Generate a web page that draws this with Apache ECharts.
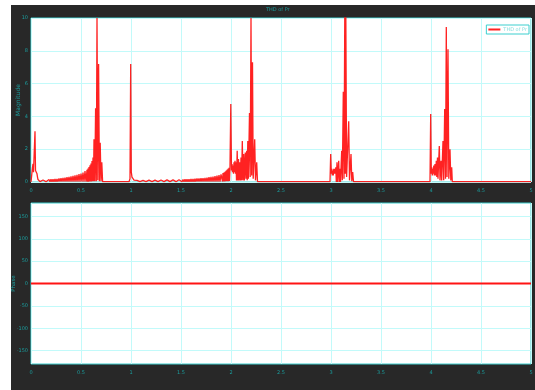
<!DOCTYPE html>
<html>
<head>
<meta charset="utf-8">
<script src="https://cdn.jsdelivr.net/npm/echarts@6/dist/echarts.min.js"></script>
<style>
  html, body { margin: 0; padding: 0; background: #ffffff; }
  #frame { position: absolute; left: 11px; top: 5px; width: 524px; height: 385px; background: #282828; }
  #chart { position: absolute; left: 0; top: 0; width: 535px; height: 390px; }
</style>
</head>
<body>
<div id="frame"></div>
<div id="chart"></div>
<script>
// Spectrum samples: frequency (x) and magnitude (y)
const freq = [
  // DC region
  0, 0.005, 0.01, 0.015, 0.02, 0.025, 0.03, 0.035, 0.04, 0.045, 0.05, 0.055, 0.06, 0.065, 0.07, 0.075,
  // skirt rising to the first peak
  0.08, 0.09, 0.10, 0.11, 0.12, 0.13, 0.14, 0.15, 0.16, 0.17, 0.18, 0.19, 0.20, 0.21, 0.22, 0.23,
  0.24, 0.25, 0.26, 0.27, 0.28, 0.29, 0.30, 0.31, 0.32, 0.33, 0.34, 0.35, 0.36, 0.37, 0.38, 0.39,
  0.40, 0.41, 0.42, 0.43, 0.44, 0.45, 0.46, 0.47, 0.48, 0.49, 0.50, 0.51, 0.52, 0.53, 0.54, 0.55,
  // first peak
  0.56, 0.565, 0.57, 0.575, 0.58, 0.585, 0.59, 0.595, 0.60, 0.605, 0.61, 0.615, 0.62, 0.625, 0.63,
  0.638, 0.646, 0.653, 0.66, 0.668, 0.676, 0.684, 0.692, 0.70, 0.708, 0.716, 0.725,
  // line at 1
  0.98, 0.99, 0.997, 1.003, 1.01, 1.02, 1.03,
  // skirt rising to 2
  1.04, 1.05, 1.06, 1.07, 1.08, 1.09, 1.10, 1.11, 1.12, 1.13, 1.14, 1.15, 1.16, 1.17, 1.18, 1.19,
  1.20, 1.21, 1.22, 1.23, 1.24, 1.25, 1.26, 1.27, 1.28, 1.29, 1.30, 1.31, 1.32, 1.33, 1.34, 1.35,
  1.36, 1.37, 1.38, 1.39, 1.40, 1.41, 1.42, 1.43, 1.44, 1.45, 1.46, 1.47, 1.48, 1.49, 1.50, 1.51,
  1.52, 1.53, 1.54, 1.55, 1.56, 1.57, 1.58, 1.59, 1.60, 1.61, 1.62, 1.63, 1.64, 1.65, 1.66, 1.67,
  1.68, 1.69, 1.70, 1.71, 1.72, 1.73, 1.74, 1.75, 1.76, 1.77, 1.78, 1.79, 1.80, 1.81, 1.82, 1.83,
  1.84, 1.85, 1.86, 1.87, 1.88, 1.89, 1.90,
  1.91, 1.915, 1.92, 1.925, 1.93, 1.935, 1.94, 1.945, 1.95, 1.955, 1.96, 1.965, 1.97, 1.975,
  1.98, 1.985, 1.99, 1.998,
  // cluster around 2.2
  2.005, 2.01, 2.015, 2.02, 2.025, 2.03, 2.035, 2.04, 2.045, 2.05, 2.055, 2.062, 2.068, 2.075,
  2.08, 2.088, 2.094, 2.10, 2.106, 2.113, 2.12, 2.127, 2.134, 2.143, 2.15, 2.157, 2.162, 2.168,
  2.174, 2.185, 2.192, 2.20, 2.207, 2.215, 2.222, 2.237, 2.245, 2.257, 2.265,
  // cluster around 3.15
  2.99, 2.997, 3.003, 3.008, 3.013, 3.018, 3.023, 3.028, 3.033, 3.038, 3.043, 3.048, 3.053,
  3.06, 3.066, 3.077, 3.083, 3.09, 3.095, 3.107, 3.113, 3.123, 3.13, 3.138, 3.143, 3.148,
  3.156, 3.177, 3.185, 3.20, 3.208, 3.217, 3.225,
  // cluster around 4.15
  3.99, 3.997, 4.003, 4.008, 4.013, 4.018, 4.023, 4.028, 4.033, 4.04, 4.046, 4.053, 4.058,
  4.065, 4.07, 4.083, 4.09, 4.10, 4.107, 4.12, 4.127, 4.137, 4.145, 4.153, 4.16, 4.17, 4.178,
  4.19, 4.198, 4.207, 4.213,
  5.0
];

const mag = [
  0, 0.30, 0.60, 0.90, 1.10, 0.60, 0.70, 0.60, 3.10, 0.70, 0.65, 0.60, 0.50, 0.30, 0.15, 0.10,
  0.11, 0.02, 0.12, 0.02, 0.12, 0.02, 0.13, 0.02, 0.14, 0.02, 0.15, 0.02, 0.16, 0.02, 0.17, 0.02,
  0.18, 0.02, 0.19, 0.02, 0.21, 0.02, 0.23, 0.02, 0.25, 0.02, 0.27, 0.02, 0.29, 0.02, 0.31, 0.02,
  0.34, 0.02, 0.37, 0.02, 0.40, 0.02, 0.44, 0.02, 0.48, 0.02, 0.52, 0.02, 0.58, 0.02, 0.66, 0.02,
  0.74, 0.02, 0.82, 0.02, 0.92, 0.03, 1.02, 0.03, 1.12, 0.03, 1.28, 0.04, 1.50, 0.04, 2.60,
  0.05, 4.50, 0.05, 10.0, 0.10, 7.20, 0.05, 2.40, 0.04, 1.20, 0.02, 0.02,
  0.02, 0.20, 7.20, 0.60, 0.30, 0.20, 0.12,
  0.10, 0.02, 0.10, 0.02, 0.10, 0.02, 0.10, 0.02, 0.10, 0.02, 0.10, 0.02, 0.10, 0.02, 0.11, 0.02,
  0.11, 0.02, 0.11, 0.02, 0.11, 0.02, 0.11, 0.02, 0.12, 0.02, 0.12, 0.02, 0.12, 0.02, 0.12, 0.02,
  0.13, 0.02, 0.13, 0.02, 0.13, 0.02, 0.13, 0.02, 0.14, 0.02, 0.14, 0.02, 0.14, 0.02, 0.15, 0.02,
  0.15, 0.02, 0.16, 0.02, 0.16, 0.02, 0.17, 0.02, 0.18, 0.02, 0.19, 0.02, 0.20, 0.02, 0.21, 0.02,
  0.22, 0.02, 0.23, 0.02, 0.24, 0.02, 0.25, 0.02, 0.27, 0.02, 0.29, 0.02, 0.31, 0.02, 0.33, 0.02,
  0.36, 0.02, 0.39, 0.02, 0.42, 0.02, 0.46,
  0.50, 0.03, 0.54, 0.03, 0.58, 0.03, 0.63, 0.04, 0.68, 0.04, 0.74, 0.05, 0.80, 0.05,
  0.86, 0.06, 0.90, 4.75,
  0.70, 1.10, 0.60, 1.00, 0.50, 1.20, 0.60, 1.30, 0.50, 1.20, 0.10, 1.90, 0.10, 1.40,
  0.10, 1.20, 0.10, 1.50, 0.10, 2.50, 0.10, 1.70, 0.10, 1.80, 0.20, 1.90, 0.10, 2.50,
  0.20, 4.20, 0.30, 10.0, 0.40, 7.30, 0.20, 2.60, 0.10, 1.20, 0.02,
  0.02, 1.70, 0.50, 0.80, 0.40, 0.70, 0.40, 0.80, 0.50, 0.80, 0.50, 0.90, 0.00,
  1.20, 0.00, 1.30, 0.00, 0.80, 0.00, 1.90, 0.10, 5.50, 0.20, 10.5, 0.50, 10.5,
  0.30, 3.70, 0.10, 1.70, 0.05, 0.60, 0.02,
  0.02, 4.15, 0.50, 0.90, 0.40, 0.80, 0.50, 1.00, 0.40, 1.10, 0.40, 1.30, 0.30,
  1.50, 0.20, 2.20, 0.10, 1.30, 0.10, 2.50, 0.10, 4.45, 0.20, 9.45, 0.30, 8.10, 0.20,
  2.00, 0.10, 0.90, 0.02,
  0.02
];

// Phase trace
const phaseFreq = [0, 5];
const phase = [0, 0];

// Axis ticks
const freqTicks = { min: 0, max: 5, step: 0.5 };
const magTicks = { min: 0, max: 10, step: 2 };
const phaseTicks = [-150, -100, -50, 0, 50, 100, 150];

const TEAL = '#1a9e9e';
const GRID_LINE = '#c2fafa';
const FRAME = '#3ccfcf';
const RED = 'rgba(255, 10, 10, 0.9)';

const chart = echarts.init(document.getElementById('chart'), null, { renderer: 'canvas' });

function xAxisFor(gridIndex) {
  return {
    gridIndex: gridIndex,
    type: 'value',
    min: freqTicks.min,
    max: freqTicks.max,
    interval: freqTicks.step,
    axisLine: { show: false },
    axisTick: { show: false },
    splitLine: { show: true, lineStyle: { color: GRID_LINE, width: 1 } },
    axisLabel: { color: TEAL, fontSize: 5, margin: 6, fontFamily: 'DejaVu Sans' }
  };
}

chart.setOption({
  animation: false,
  backgroundColor: 'transparent',
  title: {
    text: 'THD of Pr',
    left: 266,
    top: 7,
    padding: 0,
    textStyle: { color: TEAL, fontSize: 5, fontWeight: 'normal', fontFamily: 'DejaVu Sans' }
  },
  legend: {
    data: ['THD of Pr'],
    right: 6,
    top: 25,
    icon: 'rect',
    itemWidth: 12,
    itemHeight: 2,
    itemGap: 2,
    padding: [2, 2],
    backgroundColor: '#ffffff',
    borderColor: FRAME,
    borderWidth: 1,
    textStyle: { color: '#86dede', fontSize: 5, fontFamily: 'DejaVu Sans', padding: [0, 0, 0, -2] }
  },
  grid: [
    { left: 31, top: 18, width: 500, height: 164, outerBoundsMode: 'none', containLabel: false,
      show: true, backgroundColor: '#ffffff', borderColor: FRAME, borderWidth: 1 },
    { left: 31, top: 203, width: 500, height: 161, outerBoundsMode: 'none', containLabel: false,
      show: true, backgroundColor: '#ffffff', borderColor: FRAME, borderWidth: 1 }
  ],
  xAxis: [xAxisFor(0), xAxisFor(1)],
  yAxis: [
    {
      gridIndex: 0,
      type: 'value',
      min: magTicks.min,
      max: magTicks.max,
      interval: magTicks.step,
      name: 'Magnitude',
      nameLocation: 'middle',
      nameGap: 10,
      nameMoveOverlap: false,
      nameTextStyle: { color: TEAL, fontSize: 6, fontFamily: 'DejaVu Sans' },
      axisLine: { show: false },
      axisTick: { show: false },
      splitLine: { show: true, lineStyle: { color: GRID_LINE, width: 1 } },
      axisLabel: { color: TEAL, fontSize: 5, margin: 3, fontFamily: 'DejaVu Sans' }
    },
    {
      gridIndex: 1,
      type: 'value',
      min: -180,
      max: 180,
      name: 'Phase',
      nameLocation: 'middle',
      nameGap: 14,
      nameMoveOverlap: false,
      nameTextStyle: { color: TEAL, fontSize: 5.5, fontFamily: 'DejaVu Sans' },
      axisLine: { show: false },
      axisTick: { show: false, customValues: phaseTicks },
      splitLine: { show: true, lineStyle: { color: GRID_LINE, width: 1 } },
      axisLabel: { color: TEAL, fontSize: 5, margin: 3, fontFamily: 'DejaVu Sans', customValues: phaseTicks }
    }
  ],
  series: [
    {
      name: 'THD of Pr',
      type: 'line',
      xAxisIndex: 0,
      yAxisIndex: 0,
      data: freq.map((f, i) => [f, mag[i]]),
      showSymbol: false,
      clip: true,
      color: RED,
      lineStyle: { color: RED, width: 1.3 }
    },
    {
      name: 'Phase',
      type: 'line',
      xAxisIndex: 1,
      yAxisIndex: 1,
      data: phaseFreq.map((f, i) => [f, phase[i]]),
      showSymbol: false,
      color: RED,
      lineStyle: { color: '#ff1414', width: 2 }
    }
  ]
});
</script>
</body>
</html>
